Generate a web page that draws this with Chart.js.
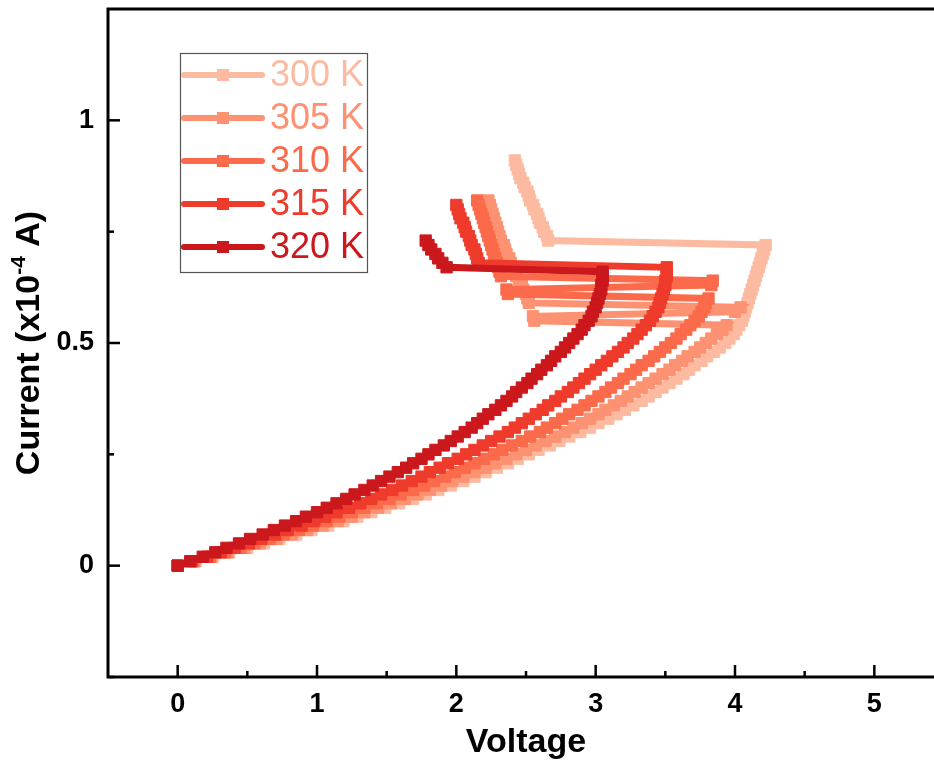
<!DOCTYPE html>
<html>
<head>
<meta charset="utf-8">
<title>I-V curves vs temperature</title>
<script src="https://cdn.jsdelivr.net/npm/chart.js@4.4.1/dist/chart.umd.min.js"></script>
<style>
  html, body { margin: 0; padding: 0; background: #fff; overflow: hidden; }
  #wrap { width: 960px; height: 765px; }
</style>
</head>
<body>
<div id="wrap"><canvas id="iv" width="960" height="765"></canvas></div>
<script>
// Series labels and colours (ColorBrewer Reds)
const temps = ['300 K', '305 K', '310 K', '315 K', '320 K'];
const colors = ['#fcbba1', '#fc9272', '#fb6a4a', '#ef3b2c', '#cb181d'];

// Current sweep, x10^-4 A
const currentSteps = [
  0, 0.01, 0.02, 0.03, 0.04, 0.05, 0.06, 0.07, 0.08, 0.09,
  0.10, 0.11, 0.12, 0.13, 0.14, 0.15, 0.16, 0.17, 0.18, 0.19,
  0.20, 0.21, 0.22, 0.23, 0.24, 0.25, 0.26, 0.27, 0.28, 0.29,
  0.30, 0.31, 0.32, 0.33, 0.34, 0.35, 0.36, 0.37, 0.38, 0.39,
  0.40, 0.41, 0.42, 0.43, 0.44, 0.45, 0.46, 0.47, 0.48, 0.49,
  0.50, 0.51, 0.52, 0.53, 0.54, 0.55, 0.56, 0.57, 0.58, 0.59,
  0.60, 0.61, 0.62, 0.63, 0.64, 0.65, 0.66, 0.67, 0.68, 0.69,
  0.70, 0.71, 0.72, 0.73, 0.74, 0.75, 0.76, 0.77, 0.78, 0.79,
  0.80, 0.81, 0.82, 0.83, 0.84, 0.85, 0.86, 0.87, 0.88, 0.89,
  0.90, 0.91
];

// Measured voltage at each current step (V); the jumps are switching events
const voltage300 = [
  0, 0.13, 0.25, 0.37, 0.50, 0.62, 0.73, 0.85, 0.96, 1.08,
  1.19, 1.29, 1.39, 1.49, 1.59, 1.69, 1.78, 1.87, 1.96, 2.05,
  2.13, 2.21, 2.29, 2.37, 2.44, 2.52, 2.59, 2.67, 2.74, 2.81,
  2.89, 2.96, 3.02, 3.09, 3.15, 3.21, 3.27, 3.33, 3.38, 3.43,
  3.48, 3.53, 3.58, 3.63, 3.67, 3.71, 3.76, 3.80, 3.85, 3.89,
  3.93, 3.96, 3.99, 4.01, 4.03, 4.05, 4.06, 4.07, 4.08, 4.09,
  4.10, 4.11, 4.12, 4.13, 4.14, 4.15, 4.16, 4.17, 4.18, 4.19,
  4.20, 4.21, 4.22,
  2.66, 2.65, 2.63, 2.62, 2.60, 2.59, 2.58, 2.56, 2.55, 2.53,
  2.52, 2.51, 2.49, 2.48, 2.46, 2.45, 2.44, 2.43, 2.42
];
const voltage305 = [
  0, 0.12, 0.24, 0.36, 0.48, 0.59, 0.71, 0.82, 0.93, 1.04,
  1.15, 1.25, 1.34, 1.44, 1.53, 1.63, 1.72, 1.81, 1.89, 1.97,
  2.05, 2.13, 2.21, 2.28, 2.36, 2.43, 2.50, 2.57, 2.64, 2.71,
  2.78, 2.84, 2.90, 2.96, 3.02, 3.07, 3.13, 3.18, 3.23, 3.28,
  3.33, 3.38, 3.43, 3.48, 3.53, 3.57, 3.62, 3.66, 3.71, 3.75,
  3.79, 3.83, 3.87, 3.91, 3.94,
  2.56, 2.55, 4.00, 4.04, 2.52, 2.51,
  2.50, 2.48, 2.47, 2.45, 2.43, 2.42, 2.40, 2.39, 2.38,
  2.36, 2.35, 2.34, 2.32, 2.31, 2.30, 2.29, 2.28, 2.27, 2.26,
  2.25, 2.24, 2.23
];
const voltage310 = [
  0, 0.11, 0.23, 0.34, 0.45, 0.55, 0.66, 0.76, 0.87, 0.97,
  1.07, 1.16, 1.25, 1.34, 1.43, 1.52, 1.60, 1.69, 1.77, 1.84,
  1.92, 1.99, 2.06, 2.13, 2.20, 2.27, 2.33, 2.40, 2.47, 2.53,
  2.60, 2.65, 2.71, 2.76, 2.81, 2.87, 2.92, 2.97, 3.02, 3.07,
  3.11, 3.16, 3.20, 3.25, 3.29, 3.33, 3.38, 3.42, 3.46, 3.50,
  3.54, 3.58, 3.61, 3.65, 3.68, 3.71, 3.74, 3.76, 3.78, 3.79,
  3.81,
  2.37, 2.36, 3.83, 3.84,
  2.32, 2.31, 2.30, 2.29, 2.28, 2.27, 2.26, 2.25, 2.24, 2.23,
  2.22, 2.21, 2.20, 2.19, 2.18, 2.17, 2.16, 2.15
];
const voltage315 = [
  0, 0.10, 0.21, 0.31, 0.41, 0.51, 0.60, 0.70, 0.79, 0.89,
  0.98, 1.06, 1.14, 1.23, 1.31, 1.39, 1.46, 1.54, 1.61, 1.68,
  1.75, 1.81, 1.88, 1.94, 2.01, 2.07, 2.13, 2.19, 2.25, 2.31,
  2.37, 2.42, 2.47, 2.52, 2.57, 2.62, 2.66, 2.71, 2.75, 2.80,
  2.84, 2.88, 2.92, 2.96, 3.00, 3.04, 3.08, 3.12, 3.16, 3.20,
  3.23, 3.27, 3.30, 3.33, 3.36, 3.39, 3.41, 3.43, 3.45, 3.46,
  3.47, 3.48, 3.49, 3.50, 3.50, 3.51, 3.51, 3.51,
  2.16, 2.15, 2.14, 2.13, 2.11, 2.10, 2.09, 2.07, 2.06, 2.05,
  2.03, 2.02, 2.01, 2.00
];
const voltage320 = [
  0, 0.09, 0.18, 0.27, 0.35, 0.44, 0.52, 0.61, 0.69, 0.77,
  0.85, 0.92, 1.00, 1.07, 1.14, 1.21, 1.27, 1.34, 1.40, 1.46,
  1.52, 1.58, 1.64, 1.69, 1.75, 1.80, 1.85, 1.91, 1.96, 2.01,
  2.06, 2.11, 2.15, 2.19, 2.23, 2.28, 2.32, 2.36, 2.40, 2.43,
  2.47, 2.51, 2.54, 2.58, 2.61, 2.65, 2.68, 2.71, 2.75, 2.78,
  2.81, 2.84, 2.87, 2.90, 2.92, 2.95, 2.97, 2.98, 3.00, 3.01,
  3.02, 3.03, 3.04, 3.04, 3.05, 3.05, 3.05,
  1.93, 1.90, 1.87, 1.85, 1.82, 1.80, 1.78
];
const voltages = [voltage300, voltage305, voltage310, voltage315, voltage320];

// Axis ticks
const xMajorTicks = [0, 1, 2, 3, 4, 5];
const xMinorTicks = [0.5, 1.5, 2.5, 3.5, 4.5];
const yMajorTicks = [0, 0.5, 1];
const yMinorTicks = [-0.25, 0.25, 0.75];
const yTickLabels = ['0', '0.5', '1'];

const FONT = '"Liberation Sans", Arial, sans-serif';

function toPoints(volts) {
  return volts.map((v, i) => ({ x: v, y: currentSteps[i] }));
}

// Boxed frame with inward ticks and bold labels
const frameAxes = {
  id: 'frameAxes',
  afterDraw(chart) {
    const { ctx, chartArea: a, scales: { x, y } } = chart;
    ctx.save();
    ctx.strokeStyle = '#000';
    ctx.lineWidth = 3;
    ctx.strokeRect(a.left, a.top, a.right - a.left, a.bottom - a.top);

    const tick = (x1, y1, x2, y2) => {
      ctx.beginPath();
      ctx.moveTo(x1, y1);
      ctx.lineTo(x2, y2);
      ctx.stroke();
    };
    ctx.lineWidth = 2.5;
    xMajorTicks.forEach(v => { const px = x.getPixelForValue(v); tick(px, a.bottom, px, a.bottom - 12); });
    xMinorTicks.forEach(v => { const px = x.getPixelForValue(v); tick(px, a.bottom, px, a.bottom - 6); });
    yMajorTicks.forEach(v => { const py = y.getPixelForValue(v); tick(a.left, py, a.left + 12, py); });
    yMinorTicks.forEach(v => { const py = y.getPixelForValue(v); tick(a.left, py, a.left + 6, py); });

    ctx.fillStyle = '#000';
    ctx.font = 'bold 27px ' + FONT;
    ctx.textAlign = 'center';
    ctx.textBaseline = 'middle';
    xMajorTicks.forEach(v => ctx.fillText(String(v), x.getPixelForValue(v), a.bottom + 28));
    ctx.textAlign = 'right';
    yMajorTicks.forEach((v, i) => ctx.fillText(yTickLabels[i], a.left - 14, y.getPixelForValue(v)));

    // axis titles
    ctx.font = 'bold 34px ' + FONT;
    ctx.textAlign = 'center';
    ctx.fillText('Voltage', (a.left + a.right) / 2, 743);

    ctx.translate(30, (a.top + a.bottom) / 2);
    ctx.rotate(-Math.PI / 2);
    const parts = [
      { t: 'Current (x10', f: 'bold 34px ' + FONT, dy: 0 },
      { t: '-4', f: 'bold 21px ' + FONT, dy: -11 },
      { t: ' A)', f: 'bold 34px ' + FONT, dy: 0 }
    ];
    let total = 0;
    parts.forEach(p => { ctx.font = p.f; p.w = ctx.measureText(p.t).width; total += p.w; });
    let cx = -total / 2;
    ctx.textAlign = 'left';
    parts.forEach(p => { ctx.font = p.f; ctx.fillText(p.t, cx, p.dy); cx += p.w; });
    ctx.restore();
  }
};

// Legend box in the upper left of the plot
const boxLegend = {
  id: 'boxLegend',
  afterDraw(chart) {
    const { ctx } = chart;
    ctx.save();
    ctx.strokeStyle = '#555';
    ctx.lineWidth = 1.2;
    ctx.strokeRect(180.5, 53.5, 187, 219);
    ctx.font = '36px ' + FONT;
    ctx.textAlign = 'left';
    ctx.textBaseline = 'middle';
    temps.forEach((label, i) => {
      const yy = 75 + i * 43;
      ctx.strokeStyle = colors[i];
      ctx.lineWidth = 6;
      ctx.lineCap = 'round';
      ctx.beginPath();
      ctx.moveTo(184, yy);
      ctx.lineTo(262, yy);
      ctx.stroke();
      ctx.fillStyle = colors[i];
      ctx.fillRect(217, yy - 6, 12, 12);
      ctx.fillText(label, 270, yy + 1);
    });
    ctx.restore();
  }
};

const datasets = temps.map((label, i) => ({
  label,
  data: toPoints(voltages[i]),
  showLine: true,
  borderColor: colors[i],
  backgroundColor: colors[i],
  borderWidth: 7,
  pointStyle: 'rect',
  pointRadius: 8,
  pointBorderWidth: 1,
  pointHoverRadius: 8,
  tension: 0,
  order: temps.length - 1 - i
}));

new Chart(document.getElementById('iv'), {
  type: 'scatter',
  data: { datasets },
  options: {
    responsive: false,
    animation: false,
    devicePixelRatio: 1,
    layout: { padding: { left: 108, top: 5, right: 16, bottom: 88 } },
    plugins: { legend: { display: false }, tooltip: { enabled: false } },
    scales: {
      x: { type: 'linear', min: -0.5, max: 5.5, display: false },
      y: { type: 'linear', min: -0.25, max: 1.25, display: false }
    }
  },
  plugins: [frameAxes, boxLegend]
});
</script>
</body>
</html>
